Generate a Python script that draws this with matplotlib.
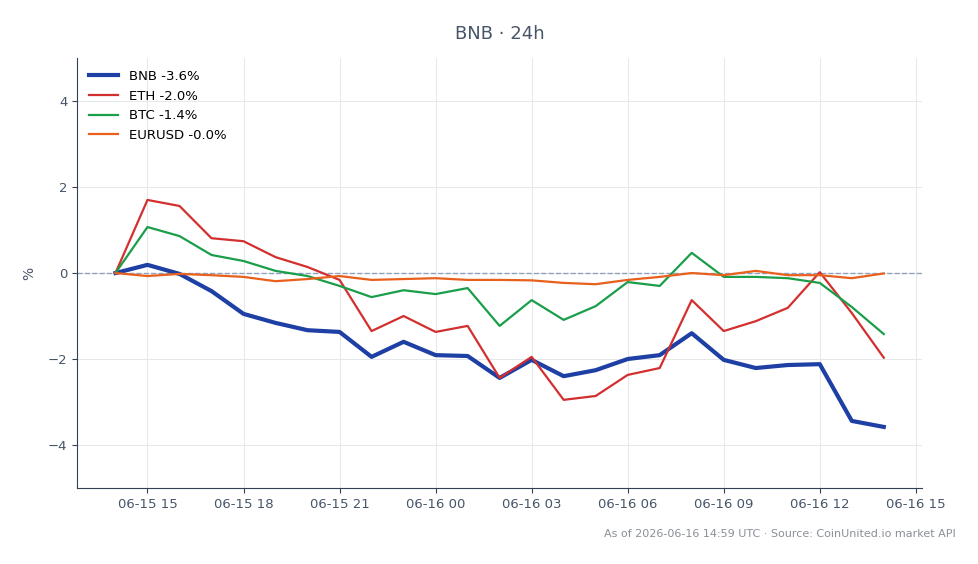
import numpy as np
import pandas as pd
import matplotlib
matplotlib.use('Agg')
import matplotlib.pyplot as plt
import matplotlib.dates as mdates

# hourly % change since 06-15 14:00 UTC
saatler = pd.date_range('2026-06-15 14:00', '2026-06-16 14:00', freq='h')

bnb = [0.00, 0.19, -0.02, -0.42, -0.95, -1.16, -1.33, -1.37, -1.95, -1.60, -1.91, -1.93, -2.44,
       -2.02, -2.40, -2.26, -2.00, -1.91, -1.40, -2.02, -2.21, -2.14, -2.12, -3.44, -3.58]
eth = [0.00, 1.70, 1.56, 0.81, 0.74, 0.37, 0.14, -0.16, -1.35, -1.00, -1.37, -1.23, -2.44,
       -1.95, -2.95, -2.86, -2.37, -2.21, -0.63, -1.35, -1.12, -0.81, 0.02, -0.93, -1.97]
btc = [0.00, 1.07, 0.86, 0.42, 0.28, 0.05, -0.07, -0.30, -0.56, -0.40, -0.49, -0.35, -1.23,
       -0.63, -1.09, -0.77, -0.21, -0.30, 0.47, -0.09, -0.09, -0.12, -0.23, -0.79, -1.42]
eurusd = [0.00, -0.07, -0.02, -0.05, -0.09, -0.19, -0.14, -0.07, -0.16, -0.14, -0.12, -0.16, -0.16,
          -0.17, -0.23, -0.26, -0.16, -0.09, 0.00, -0.05, 0.05, -0.05, -0.05, -0.12, -0.01]

seriler = [('BNB', bnb, '#1e3fa3', 3.0),
           ('ETH', eth, '#d32f2f', 1.6),
           ('BTC', btc, '#1a9e4a', 1.6),
           ('EURUSD', eurusd, '#e8601c', 1.6)]

koyu = '#334155'
fig = plt.figure(figsize=(9.79, 5.64), dpi=100)
ax = fig.add_axes([0.0787, 0.1348, 0.8633, 0.7622])

ax.axhline(0, color='#8fa0bb', linestyle='--', linewidth=1.0, zorder=1)
for ad, degerler, renk, kalinlik in seriler:
    ax.plot(saatler, degerler, color=renk, linewidth=kalinlik,
            label=f'{ad} {degerler[-1]:.1f}%', zorder=3)

ax.set_ylim(-5, 5)
ax.set_yticks([-4, -2, 0, 2, 4])
ax.xaxis.set_major_locator(mdates.HourLocator(byhour=range(0, 24, 3)))
ax.xaxis.set_major_formatter(mdates.DateFormatter('%m-%d %H'))
ax.grid(True, color='#e5e7eb', linewidth=0.7)
ax.set_axisbelow(True)

for s in ['top', 'right']:
    ax.spines[s].set_visible(False)
for s in ['left', 'bottom']:
    ax.spines[s].set_color(koyu)
ax.tick_params(colors=koyu, labelsize=9.5, labelcolor='#475569')

ax.set_ylabel('%', color='#475569', fontsize=10, labelpad=8)
ax.set_title('BNB · 24h', color='#475569', fontsize=13, pad=14)

leg = ax.legend(loc='upper left', frameon=False, fontsize=9.5, handlelength=2.2)

fig.text(0.976, 0.053, 'As of 2026-06-16 14:59 UTC · Source: CoinUnited.io market API',
         ha='right', va='center', fontsize=8, color='#8a8f98')

fig.savefig('out.png', dpi=100, facecolor='white')
